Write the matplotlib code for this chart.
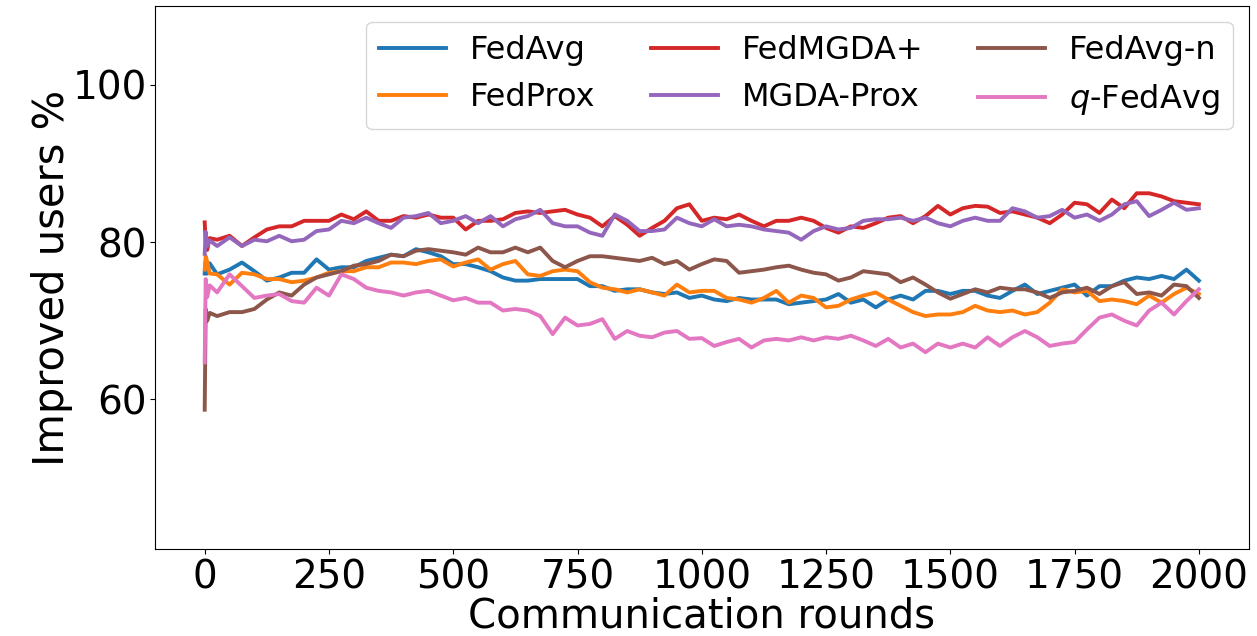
import matplotlib
matplotlib.use('Agg')
import matplotlib.pyplot as plt

# Раунды: несколько точек в самом начале, дальше шаг 25
rounds = [0, 2, 5, 10] + list(range(25, 2001, 25))

fedavg = [76.0, 77.5, 76.0, 77.3,
          75.9, 76.5, 77.4, 76.3, 75.1, 75.5, 76.1, 76.1, 77.8, 76.5,
          76.8, 76.8, 77.6, 78.0, 78.4, 78.2, 79.1, 78.7, 78.2, 77.2,
          77.2, 76.8, 76.3, 75.5, 75.1, 75.1, 75.3, 75.3, 75.3, 75.3,
          74.4, 74.4, 73.8, 74.0, 74.0, 73.6, 73.4, 73.6, 72.9, 73.2,
          72.7, 72.5, 72.9, 72.7, 72.7, 72.7, 72.1, 72.3, 72.5, 72.7,
          73.4, 72.3, 72.7, 71.7, 72.7, 73.2, 72.7, 73.8, 73.8, 73.4,
          73.8, 73.8, 73.2, 72.9, 73.8, 74.6, 73.4, 73.8, 74.2, 74.6,
          73.2, 74.4, 74.4, 75.1, 75.5, 75.3, 75.7, 75.3, 76.5, 75.1]

fedprox = [76.5, 78.2, 77.5, 76.0,
           75.9, 74.6, 76.1, 75.9, 75.3, 75.3, 74.9, 75.1, 75.5, 76.1,
           76.3, 76.3, 76.8, 76.8, 77.4, 77.4, 77.2, 77.6, 77.8, 76.9,
           77.4, 77.8, 76.5, 77.2, 77.6, 75.9, 75.7, 76.3, 76.5, 76.3,
           74.9, 74.2, 74.0, 73.6, 74.0, 73.6, 73.2, 74.6, 73.6, 73.8,
           73.8, 72.9, 72.7, 72.3, 72.9, 73.8, 72.3, 73.2, 72.9, 71.7,
           71.9, 72.7, 73.2, 73.6, 72.7, 71.9, 71.1, 70.6, 70.8, 70.8,
           71.1, 71.9, 71.3, 71.1, 71.3, 70.8, 71.1, 72.3, 74.0, 73.6,
           73.8, 72.5, 72.7, 72.5, 72.1, 73.2, 72.3, 73.4, 74.2, 73.4]

fedmgda = [82.5, 80.0, 79.0, 80.5,
           80.3, 80.8, 79.5, 80.6, 81.6, 82.0, 82.0, 82.7, 82.7, 82.7,
           83.5, 82.9, 83.9, 82.7, 82.7, 83.3, 83.1, 83.5, 83.1, 83.1,
           81.6, 82.7, 82.7, 82.9, 83.7, 83.9, 83.7, 83.9, 84.1, 83.5,
           83.1, 82.0, 83.3, 82.2, 80.8, 81.8, 82.7, 84.3, 84.8, 82.7,
           83.1, 82.9, 83.5, 82.7, 82.0, 82.7, 82.7, 83.1, 82.7, 81.8,
           81.2, 82.0, 81.8, 82.4, 83.1, 83.3, 82.4, 83.3, 84.6, 83.5,
           84.3, 84.6, 84.5, 83.7, 83.9, 83.5, 83.1, 82.4, 83.5, 85.0,
           84.8, 83.7, 85.4, 84.3, 86.2, 86.2, 85.8, 85.2, 85.0, 84.8]

mgda_prox = [78.5, 81.3, 79.5, 80.2,
             79.5, 80.6, 79.5, 80.3, 80.1, 80.8, 80.1, 80.3, 81.4, 81.6,
             82.7, 82.4, 83.1, 82.4, 81.8, 83.1, 83.3, 83.7, 82.4, 82.7,
             83.3, 82.4, 83.3, 82.0, 82.9, 83.3, 84.1, 82.4, 82.0, 82.0,
             81.2, 80.8, 83.5, 82.7, 81.4, 81.4, 81.6, 83.1, 82.4, 82.0,
             82.9, 82.0, 82.2, 82.0, 81.6, 81.4, 81.2, 80.3, 81.4, 82.0,
             81.6, 81.8, 82.7, 82.9, 82.9, 83.1, 82.7, 83.1, 82.4, 82.0,
             82.7, 83.1, 82.7, 82.7, 84.3, 83.9, 83.1, 83.3, 84.1, 83.1,
             83.5, 82.7, 83.5, 84.8, 85.2, 83.3, 84.1, 85.0, 84.1, 84.3]

fedavg_n = [58.7, 71.5, 70.0, 71.0,
            70.6, 71.1, 71.1, 71.5, 72.7, 73.6, 73.2, 74.6, 75.5, 75.9,
            76.3, 77.0, 77.2, 77.6, 78.4, 78.2, 78.9, 79.1, 78.9, 78.7,
            78.4, 79.3, 78.7, 78.7, 79.3, 78.7, 79.3, 77.6, 76.8, 77.6,
            78.2, 78.2, 78.0, 77.8, 77.6, 78.0, 77.2, 77.6, 76.5, 77.2,
            77.8, 77.6, 76.1, 76.3, 76.5, 76.8, 77.0, 76.5, 76.1, 75.9,
            75.1, 75.5, 76.3, 76.1, 75.9, 74.9, 75.5, 74.6, 73.6, 72.8,
            73.4, 74.0, 73.6, 74.2, 74.0, 74.0, 73.6, 72.9, 73.6, 73.8,
            74.2, 73.4, 74.4, 74.9, 73.4, 73.6, 73.2, 74.6, 74.4, 72.9]

q_fedavg = [64.7, 75.3, 73.0, 74.5,
            73.6, 75.9, 74.4, 72.9, 73.2, 73.4, 72.5, 72.3, 74.2, 73.2,
            75.9, 75.3, 74.2, 73.8, 73.6, 73.2, 73.6, 73.8, 73.2, 72.6,
            72.9, 72.3, 72.3, 71.3, 71.5, 71.3, 70.6, 68.3, 70.4, 69.4,
            69.6, 70.2, 67.7, 68.7, 68.1, 67.9, 68.5, 68.7, 67.7, 67.8,
            66.8, 67.3, 67.7, 66.6, 67.5, 67.7, 67.5, 67.9, 67.5, 67.9,
            67.7, 68.1, 67.5, 66.8, 67.7, 66.6, 67.1, 66.0, 67.1, 66.6,
            67.1, 66.6, 67.9, 66.8, 67.9, 68.7, 67.9, 66.8, 67.1, 67.3,
            68.9, 70.4, 70.8, 70.0, 69.4, 71.3, 72.3, 70.8, 72.5, 74.0]

series = [
    ('FedAvg', fedavg, 'tab:blue'),
    ('FedProx', fedprox, 'tab:orange'),
    ('FedMGDA+', fedmgda, 'tab:red'),
    ('MGDA-Prox', mgda_prox, 'tab:purple'),
    ('FedAvg-n', fedavg_n, 'tab:brown'),
    ('$q$-FedAvg', q_fedavg, 'tab:pink'),
]

fig = plt.figure(figsize=(12.57, 6.36), dpi=100)
ax = fig.add_axes([0.1233, 0.1368, 0.8700, 0.8538])

for name, values, color in series:
    ax.plot(rounds, values, color=color, linewidth=2.8, label=name)

ax.set_xlim(-100, 2100)
ax.set_ylim(41, 110)
ax.set_xticks(range(0, 2001, 250))
ax.set_yticks([60, 80, 100])
ax.tick_params(labelsize=28)
ax.tick_params(axis='y', pad=2)
ax.set_xlabel('Communication rounds', fontsize=29, labelpad=0)
ax.set_ylabel('Improved users %', fontsize=30, labelpad=0)
ax.legend(loc='upper right', ncol=3, fontsize=23, handlelength=2.1,
          handletextpad=0.75, columnspacing=1.72)

fig.savefig('out.png', dpi=100)
